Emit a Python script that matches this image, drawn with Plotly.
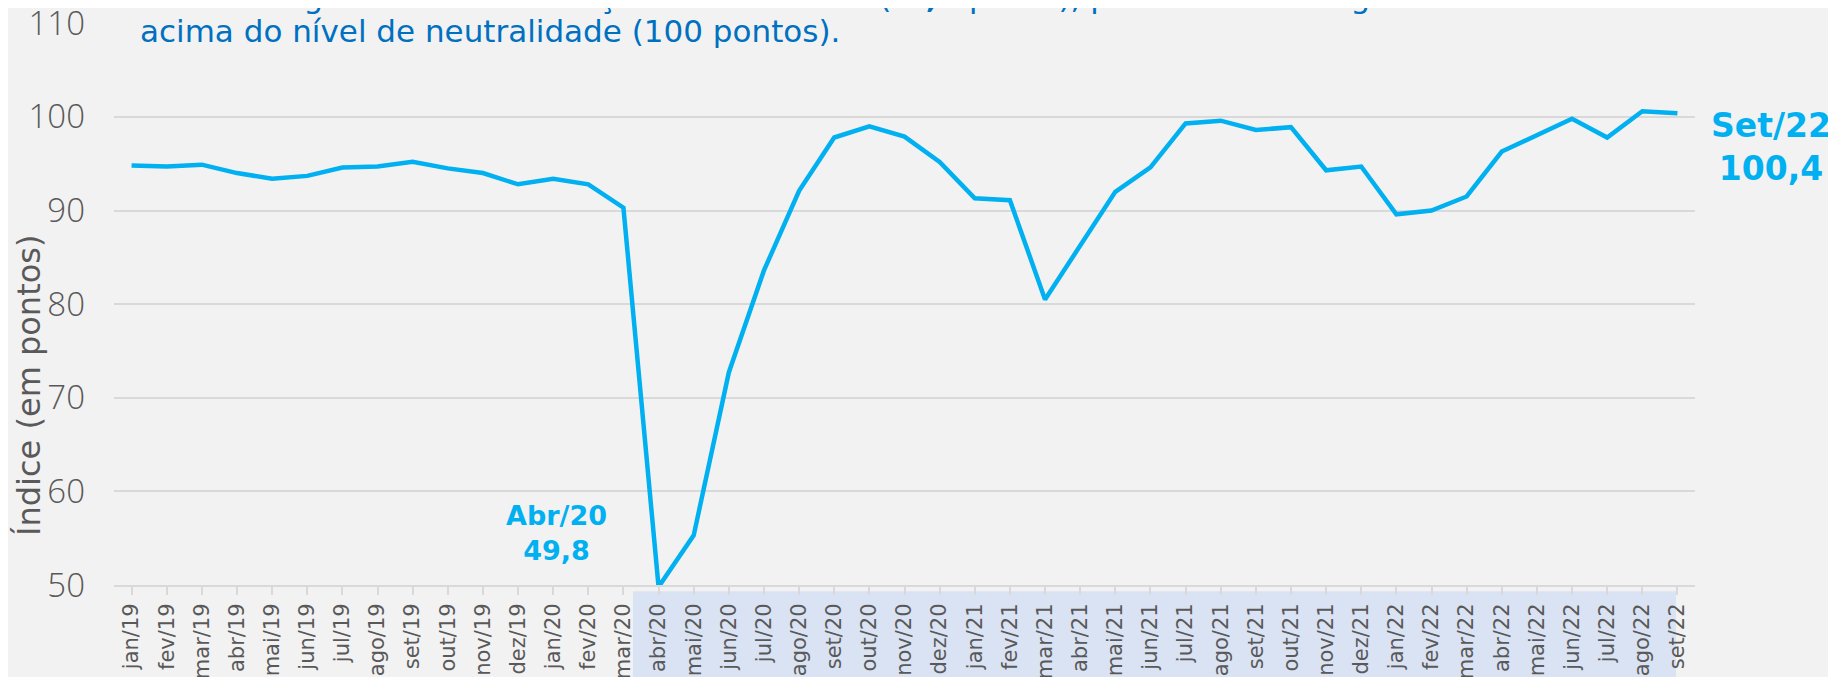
import plotly.graph_objects as go

months = ["jan/19","fev/19","mar/19","abr/19","mai/19","jun/19","jul/19","ago/19","set/19","out/19","nov/19","dez/19",
          "jan/20","fev/20","mar/20","abr/20","mai/20","jun/20","jul/20","ago/20","set/20","out/20","nov/20","dez/20",
          "jan/21","fev/21","mar/21","abr/21","mai/21","jun/21","jul/21","ago/21","set/21","out/21","nov/21","dez/21",
          "jan/22","fev/22","mar/22","abr/22","mai/22","jun/22","jul/22","ago/22","set/22"]
ic_mpe = [94.8, 94.7, 94.9, 94.0, 93.4, 93.7, 94.6, 94.7, 95.2, 94.5, 94.0, 92.8,
          93.4, 92.8, 90.3, 49.8, 55.3, 72.7, 83.6, 92.1, 97.8, 99.0, 97.9, 95.2,
          91.3, 91.1, 80.5, 86.2, 92.0, 94.6, 99.3, 99.6, 98.6, 98.9, 94.3, 94.7,
          89.6, 90.0, 91.5, 96.3, 98.1, 99.8, 97.8, 100.6, 100.4]
y_ticks = [50, 60, 70, 80, 90, 100, 110]

BLUE = "#00B0F0"
DARK = "#0070C0"
GRAY = "#595959"
LIGHT = "Open Sans"
WIDE = "DejaVu Sans"

fig = go.Figure()
fig.add_trace(go.Scatter(
    x=list(range(len(months))), y=ic_mpe, mode="lines",
    line=dict(color=BLUE, width=4.5), cliponaxis=False, hoverinfo="skip"))

# shaded band behind the lower tick labels (abr/20 .. ago/22)
fig.add_shape(type="rect", xref="x", yref="paper", x0=14.27, x1=43.96, y0=-0.3, y1=-0.011,
              fillcolor="#DAE3F3", line=dict(width=0), layer="below")

fig.update_layout(
    width=1836, height=677,
    margin=dict(l=106, r=149, t=15, b=100),
    paper_bgcolor="#F2F2F2", plot_bgcolor="#F2F2F2",
    showlegend=False,
    xaxis=dict(
        tickmode="array", tickvals=list(range(len(months))), ticktext=months,
        range=[-0.5, len(months) - 0.5], tickangle=-90,
        showgrid=False, showline=True, linecolor="#D9D9D9", linewidth=2,
        ticks="outside", tickson="boundaries", ticklen=8, tickcolor="#D9D9D9", tickwidth=2,
        tickfont=dict(family=WIDE, size=21, color=GRAY), automargin=False, zeroline=False,
        ticklabeloverflow="allow"),
    yaxis=dict(
        range=[50, 110.03], tickvals=y_ticks, showgrid=True, gridcolor="#D9D9D9", gridwidth=2,
        showline=False, zeroline=False, ticks="", ticklabelstandoff=28,
        tickfont=dict(family=LIGHT, size=33, color=GRAY, weight=300), automargin=False,
        ticklabeloverflow="allow"),
    annotations=[
        dict(text="Índice (em pontos)", textangle=-90, xref="paper", yref="paper",
             x=-0.0535, y=0.355, xanchor="center", yanchor="middle", showarrow=False,
             font=dict(family=WIDE, size=32, color=GRAY)),
        dict(text="<b>IC-MPE</b> registrou ínfima redução em setembro (<b>-0,2</b> ponto), permanecendo ligeiramente",
             xref="paper", yref="paper", x=0.015, y=1.047, xanchor="left", yanchor="middle",
             showarrow=False, font=dict(family=WIDE, size=31, color=DARK)),
        dict(text="acima do nível de neutralidade (100 pontos).",
             xref="paper", yref="paper", x=0.015, y=0.9858, xanchor="left", yanchor="middle",
             showarrow=False, font=dict(family=WIDE, size=31, color=DARK)),
        dict(text="<b>Abr/20<br>49,8</b>", xref="paper", yref="paper",
             x=0.280, y=0.092, xanchor="center", yanchor="middle",
             showarrow=False, font=dict(family=WIDE, size=27, color=BLUE)),
        dict(text="<b>Set/22<br>100,4</b>", xref="paper", yref="paper",
             x=1.048, y=0.780, xanchor="center", yanchor="middle",
             showarrow=False, font=dict(family=WIDE, size=33, color=BLUE)),
    ],
)

fig.write_html("out.html")
